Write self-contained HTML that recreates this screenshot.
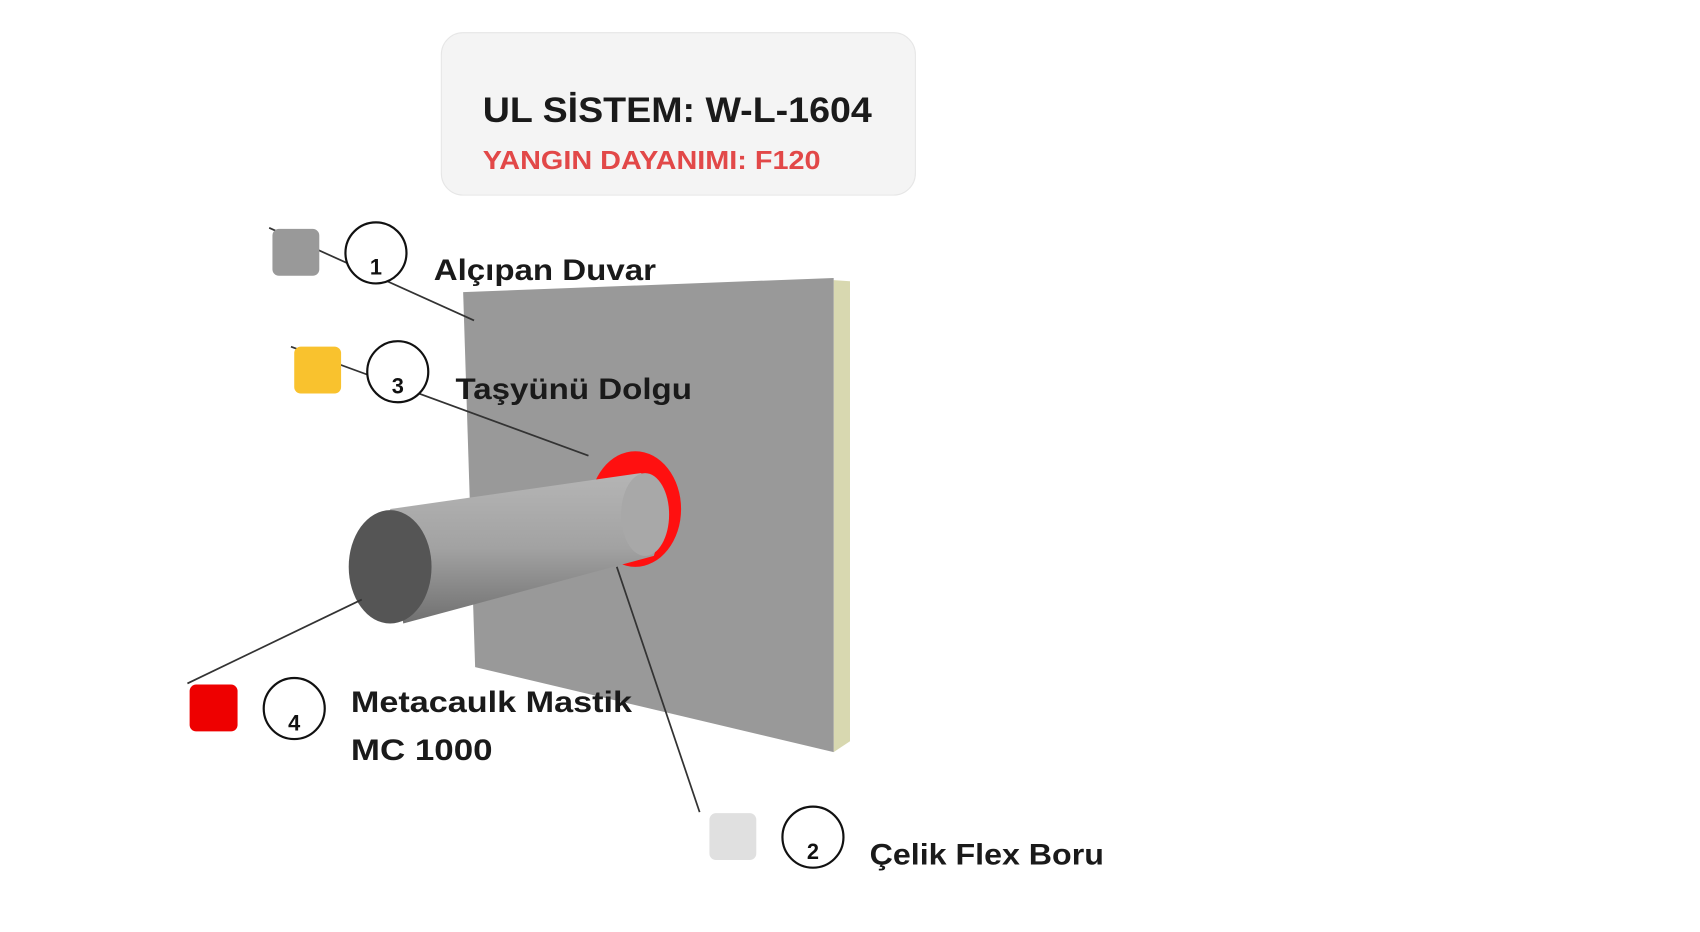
<!DOCTYPE html>
<html><head><meta charset="utf-8"><style>
html,body{margin:0;padding:0;background:#fff;width:1700px;height:932px;overflow:hidden}
svg{display:block}
text{font-family:"Liberation Sans",sans-serif;font-weight:bold}
</style></head><body>
<svg width="1700" height="932" viewBox="0 0 1560 855" preserveAspectRatio="none">
<defs>
<linearGradient id="pg" x1="0" y1="0" x2="0" y2="1">
<stop offset="0" stop-color="#b5b5b5"/><stop offset="0.5" stop-color="#a2a2a2"/><stop offset="1" stop-color="#707070"/>
</linearGradient>
</defs>
<rect x="405" y="30" width="435" height="149" rx="20" fill="#f4f4f4" stroke="#e6e6e6"/>
<text x="443" y="112" font-size="32" fill="#1a1a1a" textLength="357" lengthAdjust="spacingAndGlyphs">UL SİSTEM: W-L-1604</text>
<text x="443" y="155" font-size="24" fill="#e24848" textLength="310" lengthAdjust="spacingAndGlyphs">YANGIN DAYANIMI: F120</text>

<polygon points="765,257 780,258 780,680 765,690" fill="#d8d8b0"/>
<polygon points="425,268 765,255 765,690 436,612" fill="#999999"/>
<ellipse cx="583" cy="467" rx="42" ry="53" fill="#ff1010"/>
<polygon points="358,467 588,434 600,440 612,470 600,510 370,572" fill="url(#pg)"/>
<ellipse cx="592" cy="472" rx="22" ry="38" fill="#a8a8a8"/>
<ellipse cx="358" cy="520" rx="38" ry="52" fill="#555555"/>

<g stroke="#333" stroke-width="1.6" fill="none">
<line x1="247" y1="209" x2="435" y2="294"/>
<line x1="267" y1="318" x2="540" y2="418"/>
<line x1="172" y1="627" x2="332" y2="550"/>
<line x1="642" y1="745" x2="566" y2="520"/>
</g>
<rect x="250" y="210" width="43" height="43" rx="6" fill="#999"/>
<rect x="270" y="318" width="43" height="43" rx="6" fill="#f9c22e"/>
<rect x="174" y="628" width="44" height="43" rx="6" fill="#ee0000"/>
<rect x="651" y="746" width="43" height="43" rx="6" fill="#e0e0e0"/>

<g fill="#fff" stroke="#111" stroke-width="2">
<circle cx="345" cy="232" r="28"/>
<circle cx="365" cy="341" r="28"/>
<circle cx="270" cy="650" r="28"/>
<circle cx="746" cy="768" r="28"/>
</g>
<g font-size="20" fill="#111" text-anchor="middle">
<text x="345" y="252">1</text>
<text x="365" y="361">3</text>
<text x="270" y="670">4</text>
<text x="746" y="788">2</text>
</g>
<g font-size="27" fill="#1a1a1a">
<text x="398" y="257" textLength="204" lengthAdjust="spacingAndGlyphs">Alçıpan Duvar</text>
<text x="418" y="366" textLength="217" lengthAdjust="spacingAndGlyphs">Taşyünü Dolgu</text>
<text x="322" y="653" textLength="258" lengthAdjust="spacingAndGlyphs">Metacaulk Mastik</text>
<text x="322" y="697" textLength="130" lengthAdjust="spacingAndGlyphs">MC 1000</text>
<text x="798" y="793" textLength="215" lengthAdjust="spacingAndGlyphs">Çelik Flex Boru</text>
</g>
</svg>
</body></html>
